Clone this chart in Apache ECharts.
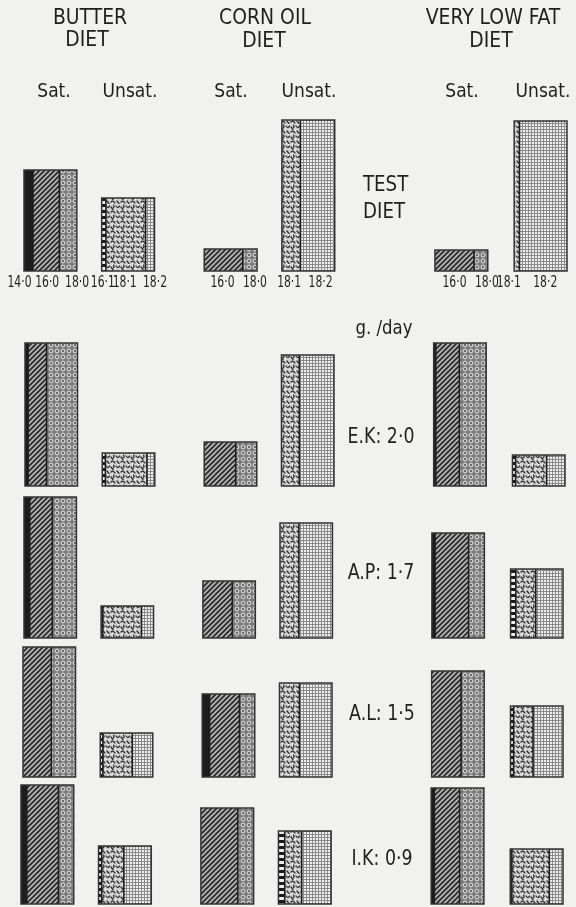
<!DOCTYPE html>
<html><head><meta charset="utf-8">
<script src="https://cdn.jsdelivr.net/npm/echarts@6/dist/echarts.min.js"></script>
<style>html,body{margin:0;padding:0;background:#f1f1ef;}#c{width:576px;height:907px;}</style>
</head><body><div id="c"></div>
<script>
// ---------- data ----------
const blockNames = ['Butter Sat.', 'Butter Unsat.', 'Corn oil Sat.', 'Corn oil Unsat.', 'Very low fat Sat.', 'Very low fat Unsat.'];
const rowLabels = ['TEST DIET', 'E.K: 2·0', 'A.P: 1·7', 'A.L: 1·5', 'I.K: 0·9'];
const satAcids = ['14·0', '16·0', '18·0'];
const unsatAcids = ['16·1', '18·1', '18·2'];
// block heights (amount, relative g/day)
const totalsTest = [10.1, 7.3, 2.2, 15.1, 2.1, 15.0];
const totalsEK   = [14.3, 3.3, 4.4, 13.1, 14.3, 3.1];
const totalsAP   = [14.1, 3.2, 5.7, 11.5, 10.5, 6.9];
const totalsAL   = [13.0, 4.4, 8.3, 9.4, 10.6, 7.1];
const totalsIK   = [11.9, 5.8, 9.6, 7.3, 11.6, 5.5];
// composition of each block (sat: 14:0,16:0,18:0 ; unsat: 16:1,18:1,18:2)
const compTest = [[0.17,0.50,0.33],[0.08,0.75,0.17],[0,0.73,0.27],[0,0.35,0.65],[0,0.74,0.26],[0,0.10,0.90]];
const compEK   = [[0.06,0.35,0.59],[0.06,0.79,0.15],[0,0.60,0.40],[0,0.34,0.66],[0.04,0.45,0.51],[0.06,0.59,0.35]];
const compAP   = [[0.11,0.43,0.46],[0.03,0.74,0.23],[0,0.56,0.44],[0,0.36,0.64],[0.06,0.64,0.30],[0.10,0.38,0.52]];
const compAL   = [[0,0.54,0.46],[0.05,0.56,0.39],[0.14,0.57,0.29],[0,0.38,0.62],[0,0.56,0.44],[0.06,0.37,0.57]];
const compIK   = [[0.11,0.60,0.29],[0.06,0.42,0.52],[0,0.70,0.30],[0.12,0.32,0.56],[0.06,0.48,0.46],[0.03,0.71,0.26]];

const rowsTotals = [totalsTest, totalsEK, totalsAP, totalsAL, totalsIK];
const rowsComp = [compTest, compEK, compAP, compAL, compIK];

// ---------- layout ----------
const slotX = [0, 1, 2.32, 3.32, 5.29, 6.31];
const halfW = 0.34;
const rowBase = [271, 486, 638, 777, 904];
const rowLeft = [24, 25, 24, 23, 21];
const rowRight = [567, 565, 563, 563, 563];
const yMax = 16, pxPerUnit = 10;
const labelDx = [[-9,1,9],[-1,-1,5],[0,-1,5],[0,-2,3],[0,0,6],[0,-8,2]];
const FONT = '"DejaVu Sans Condensed","Liberation Sans Narrow","DejaVu Sans",sans-serif';
const INK = '#1f1f1f';

function mk(w, h, draw) {
  const c = document.createElement('canvas'); c.width = w; c.height = h;
  draw(c.getContext('2d'), w, h);
  return { image: c, repeat: 'repeat' };
}
const patBlack = '#1c1c1c';
const patHatch = mk(5, 5, g => {
  g.fillStyle = '#b4b4b4'; g.fillRect(0, 0, 5, 5);
  g.strokeStyle = '#2a2a2a'; g.lineWidth = 1.7; g.beginPath();
  g.moveTo(-1, 6); g.lineTo(6, -1); g.moveTo(-1, 1); g.lineTo(1, -1); g.moveTo(4, 6); g.lineTo(6, 4); g.stroke();
});
const patCircle = mk(6, 6, g => {
  g.fillStyle = '#7c7c7c'; g.fillRect(0, 0, 6, 6);
  g.strokeStyle = '#e2e2e2'; g.lineWidth = 1; g.beginPath(); g.arc(3, 3, 1.9, 0, Math.PI * 2); g.stroke();
  g.fillStyle = '#404040'; g.fillRect(2.5, 2.5, 1, 1);
});
const patDash = mk(4, 6, g => {
  g.fillStyle = '#eeeeee'; g.fillRect(0, 0, 4, 6);
  g.fillStyle = '#1a1a1a'; g.fillRect(0, 0, 4, 3);
});
const patWorm = mk(10, 10, g => {
  g.fillStyle = '#d4d4d4'; g.fillRect(0, 0, 10, 10);
  g.strokeStyle = '#303030'; g.lineWidth = 1.3; g.lineCap = 'round'; g.beginPath();
  g.moveTo(1, 2); g.quadraticCurveTo(3, 0, 5, 3);
  g.moveTo(6, 6); g.quadraticCurveTo(8, 9, 9.5, 6);
  g.moveTo(1, 7); g.lineTo(3, 9.5);
  g.moveTo(7, 1); g.lineTo(9, 3.5);
  g.moveTo(3.5, 5); g.quadraticCurveTo(4.5, 6.5, 3.5, 7.5);
  g.stroke();
  g.fillStyle = '#f8f8f8'; g.fillRect(2, 4, 1, 1); g.fillRect(8, 4, 1, 1); g.fillRect(5, 9, 1, 1);
});
const patGrid = mk(3, 3, g => {
  g.fillStyle = '#efefef'; g.fillRect(0, 0, 3, 3);
  g.fillStyle = '#8a8a8a'; g.fillRect(0, 0, 3, 1); g.fillRect(0, 0, 1, 3);
});
const satFills = [patBlack, patHatch, patCircle];
const unsatFills = [patDash, patWorm, patGrid];

function makeRender(rowIdx) {
  return function (params, api) {
    const slot = api.value(0), total = api.value(1);
    const f = [api.value(2), api.value(3), api.value(4)];
    const unsat = api.value(5) === 1;
    const bi = api.value(6);
    const p0 = api.coord([slot - halfW, total]);
    const p1 = api.coord([slot + halfW, 0]);
    const x0 = p0[0], y0 = p0[1], w = p1[0] - p0[0], h = p1[1] - p0[1];
    const fills = unsat ? unsatFills : satFills;
    const names = unsat ? unsatAcids : satAcids;
    const children = [];
    let cum = 0;
    for (let i = 0; i < 3; i++) {
      if (f[i] <= 0) continue;
      const sx = x0 + w * cum, sw = w * f[i];
      children.push({ type: 'rect', shape: { x: sx, y: y0, width: sw, height: h }, style: { fill: fills[i] } });
      if (cum > 0) children.push({ type: 'line', shape: { x1: sx, y1: y0, x2: sx, y2: y0 + h }, style: { stroke: '#1e1e1e', lineWidth: 1.6 } });
      if (rowIdx === 0) {
        children.push({ type: 'text', x: sx + sw / 2 + labelDx[bi][i], y: p1[1] + 12, scaleX: 0.8,
          style: { text: names[i], x: 0, y: 0, font: '15px ' + FONT, fill: INK, align: 'center', verticalAlign: 'middle' } });
      }
      cum += f[i];
    }
    children.push({ type: 'rect', shape: { x: x0, y: y0, width: w, height: h }, style: { fill: 'none', stroke: '#333', lineWidth: 1.5 } });
    return { type: 'group', children };
  };
}

const grids = [], xAxes = [], yAxes = [], series = [];
for (let r = 0; r < 5; r++) {
  grids.push({ left: rowLeft[r], width: rowRight[r] - rowLeft[r], top: rowBase[r] - yMax * pxPerUnit, height: yMax * pxPerUnit });
  xAxes.push({ type: 'value', gridIndex: r, min: -halfW, max: slotX[5] + halfW, show: false });
  yAxes.push({ type: 'value', gridIndex: r, min: 0, max: yMax, show: false });
  const data = rowsTotals[r].map((t, i) => {
    const c = rowsComp[r][i];
    return { name: blockNames[i], value: [slotX[i], t, c[0], c[1], c[2], i % 2, i] };
  });
  series.push({ type: 'custom', name: rowLabels[r], xAxisIndex: r, yAxisIndex: r, renderItem: makeRender(r),
    data, encode: { x: 0, y: 1 }, silent: true, animation: false, clip: false });
}

function txt(text, x, y, size, sx, align) {
  return { type: 'text', x, y, scaleX: sx, style: { text, x: 0, y: 0, font: size + 'px ' + FONT, fill: INK,
    align: align || 'center', verticalAlign: 'middle' } };
}
const graphics = [
  txt('BUTTER', 90, 18, 22, 0.95), txt('DIET', 87, 40, 22, 0.95),
  txt('CORN OIL', 265, 18, 22, 0.95), txt('DIET', 264, 41, 22, 0.95),
  txt('VERY LOW FAT', 493, 18, 22, 0.95), txt('DIET', 491, 41, 22, 0.95),
  txt('Sat.', 54, 92, 20, 0.95), txt('Unsat.', 130, 92, 20, 0.95),
  txt('Sat.', 231, 92, 20, 0.95), txt('Unsat.', 309, 92, 20, 0.95),
  txt('Sat.', 462, 92, 20, 0.95), txt('Unsat.', 543, 92, 20, 0.95),
  txt('TEST', 363, 185, 22, 0.92, 'left'), txt('DIET', 363, 212, 22, 0.92, 'left'),
  txt('g. /day', 384, 329, 20, 0.92),
  txt(rowLabels[1], 381, 438, 21, 0.92), txt(rowLabels[2], 381, 574, 21, 0.92),
  txt(rowLabels[3], 382, 715, 21, 0.92), txt(rowLabels[4], 382, 860, 21, 0.92)
];

const chart = echarts.init(document.getElementById('c'), null, { renderer: 'canvas' });
chart.setOption({
  backgroundColor: '#f1f1ef',
  animation: false,
  grid: grids, xAxis: xAxes, yAxis: yAxes, series,
  graphic: { elements: graphics }
});
</script></body></html>
